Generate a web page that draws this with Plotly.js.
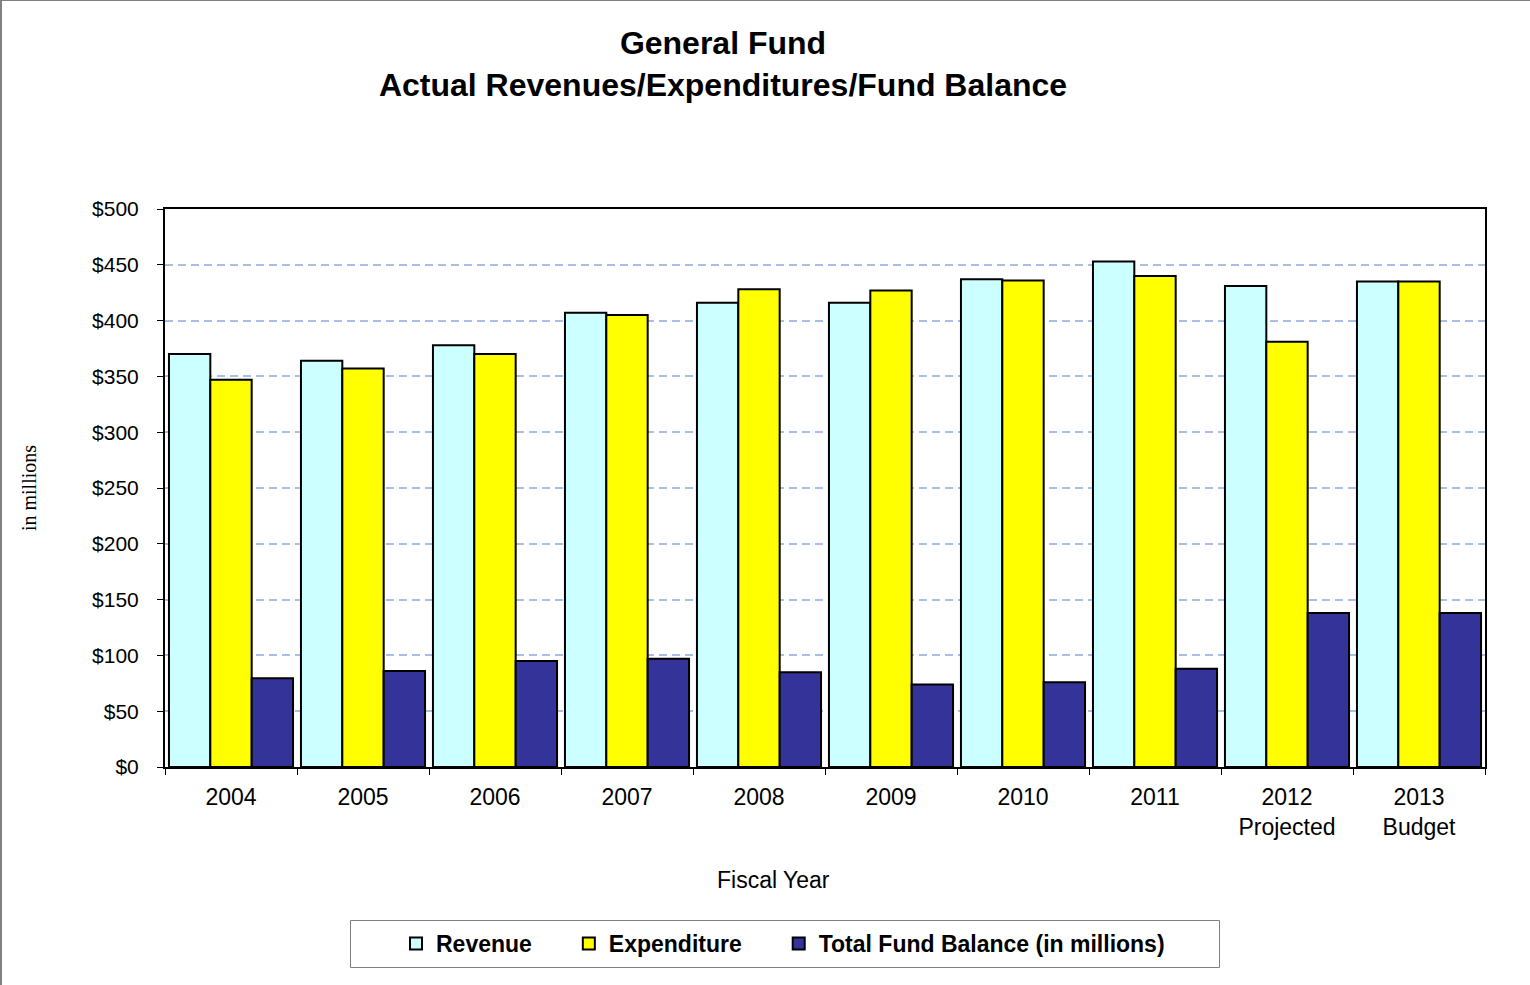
<!DOCTYPE html>
<html>
<head>
<meta charset="utf-8">
<script src="https://cdn.plot.ly/plotly-3.0.1.min.js"></script>
<style>
  html, body { margin: 0; padding: 0; background: #ffffff; }
  #frame { position: absolute; left: 0; top: 0; width: 1530px; height: 985px;
           box-sizing: border-box; border-left: 2px solid #808080; border-top: 1px solid #808080;
           pointer-events: none; }
  #chart { position: absolute; left: 0; top: 0; width: 1530px; height: 985px; }
</style>
</head>
<body>
<div id="chart"></div>
<div id="frame"></div>
<script>
// Fiscal years shown on the category axis
const years = ['2004', '2005', '2006', '2007', '2008', '2009', '2010', '2011', '2012', '2013'];
const yearLabels = ['2004', '2005', '2006', '2007', '2008', '2009', '2010', '2011', '2012<br>Projected', '2013<br>Budget'];

// General Fund figures, $ millions
const revenue     = [370, 364, 378, 407, 416, 416, 437, 453, 431, 435];
const expenditure = [347, 357, 370, 405, 428, 427, 436, 440, 381, 435];
const fundBalance = [79.5, 86, 95, 97, 85, 74, 76, 88, 138, 138];

// Value axis ticks
const yTickVals = [0, 50, 100, 150, 200, 250, 300, 350, 400, 450, 500];
const yTickText = yTickVals.map(v => '$' + v);

const barLine = { color: '#000000', width: 2 };
const pad = '\u00a0'.repeat(5);   // extra room after the shorter legend entries

const traces = [
  { type: 'bar', name: 'Revenue' + pad, x: years, y: revenue,
    marker: { color: '#CCFFFF', line: barLine } },
  { type: 'bar', name: 'Expenditure' + pad, x: years, y: expenditure,
    marker: { color: '#FFFF00', line: barLine } },
  { type: 'bar', name: 'Total Fund Balance (in millions)', x: years, y: fundBalance,
    marker: { color: '#333399', line: barLine } }
];

// plot area in pixels: x 165..1485, y 209..767
const px = x => (x - 165) / 1320;
const py = y => (767 - y) / 558;

const layout = {
  width: 1530,
  height: 985,
  paper_bgcolor: '#ffffff',
  plot_bgcolor: '#ffffff',
  font: { family: 'Liberation Sans, Arial, sans-serif', color: '#000000' },
  margin: { l: 165, r: 45, t: 209, b: 218, pad: 0 },
  title: {
    text: '<b>General Fund</b><br><b>Actual Revenues/Expenditures/Fund Balance</b>',
    font: { size: 32, family: 'Liberation Sans, Arial, sans-serif' },
    x: 723 / 1530, xref: 'container', xanchor: 'center',
    y: 1 - 54 / 985, yref: 'container', yanchor: 'top'
  },
  barmode: 'group',
  bargap: 0.06,
  bargroupgap: 0,
  showlegend: true,
  legend: {
    orientation: 'h',
    x: px(396), xanchor: 'left',
    y: py(922), yanchor: 'top',
    borderwidth: 0,
    bgcolor: 'rgba(0,0,0,0)',
    font: { size: 23, family: 'Liberation Sans, Arial, sans-serif', weight: 'bold' },
    itemwidth: 30,
    traceorder: 'normal'
  },
  shapes: [
    // frame around the legend
    { type: 'rect', xref: 'paper', yref: 'paper',
      x0: px(350.5), x1: px(1219.5), y0: py(967.5), y1: py(920.5),
      line: { color: '#808080', width: 1 }, fillcolor: 'rgba(0,0,0,0)', layer: 'below' }
  ],
  annotations: [
    { text: 'Fiscal Year', xref: 'paper', yref: 'paper', x: px(773), y: py(880),
      xanchor: 'center', yanchor: 'middle', showarrow: false, font: { size: 23 } }
  ],
  xaxis: {
    type: 'category',
    tickvals: years,
    ticktext: yearLabels,
    tickfont: { size: 23 },
    ticks: 'outside', ticklen: 6, tickcolor: '#000000', tickwidth: 1,
    tickson: 'boundaries',
    ticklabelstandoff: 8,
    showline: true, linecolor: '#000000', linewidth: 2, mirror: true,
    showgrid: false,
    automargin: false
  },
  yaxis: {
    range: [0, 500],
    tickvals: yTickVals,
    ticktext: yTickText,
    tickfont: { size: 21 },
    ticks: 'outside', ticklen: 6, tickcolor: '#000000', tickwidth: 1,
    ticklabelstandoff: 14,
    showline: true, linecolor: '#000000', linewidth: 2, mirror: true,
    showgrid: true, gridcolor: '#a9bfe8', gridwidth: 2, griddash: '8px,5px',
    zeroline: false,
    title: { text: 'in millions', font: { size: 20, family: 'Liberation Serif, Times New Roman, serif' }, standoff: 50 },
    automargin: false
  }
};

Plotly.newPlot('chart', traces, layout, { displayModeBar: false, staticPlot: true });
</script>
</body>
</html>
